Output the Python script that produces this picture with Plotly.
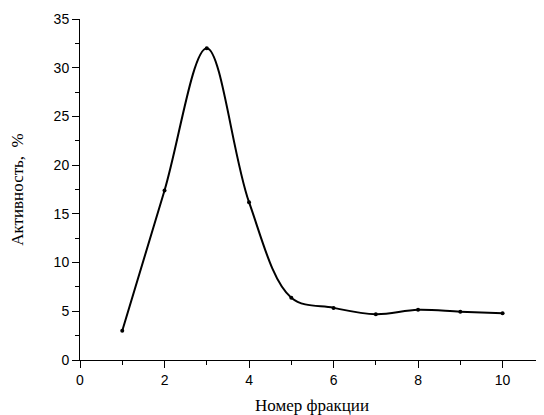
import plotly.graph_objects as go

fractions = [1, 2, 3, 4, 5, 6, 7, 8, 9, 10]
activity = [3.0, 17.4, 32.0, 16.2, 6.4, 5.35, 4.7, 5.15, 4.95, 4.8]

x_ticks = [0, 2, 4, 6, 8, 10]
y_ticks = [0, 5, 10, 15, 20, 25, 30, 35]

fig = go.Figure()
fig.add_trace(go.Scatter(
    x=fractions, y=activity, mode="lines+markers",
    line=dict(shape="spline", smoothing=1.0, color="black", width=2),
    marker=dict(size=4, color="black"),
    showlegend=False,
))

# page body adds an 8px offset, compensated in margins
fig.update_layout(
    width=544, height=415,
    margin=dict(l=72, r=8, t=11, b=63),
    paper_bgcolor="white", plot_bgcolor="white",
    font=dict(family="Liberation Sans, Arial", color="black", size=14),
)
fig.update_xaxes(
    range=[0, 10.98], tickvals=x_ticks, ticks="outside", ticklen=7,
    showline=True, linecolor="black", linewidth=1, showgrid=False, zeroline=False,
    minor=dict(tickvals=[1, 3, 5, 7, 9], ticks="outside", ticklen=4, tickcolor="black"),
    tickcolor="black", automargin=False,
    title=dict(text="Номер фракции", font=dict(family="Liberation Serif, Times New Roman", size=17), standoff=12),
)
fig.update_yaxes(
    range=[0, 35], tickvals=y_ticks, ticks="outside", ticklen=7,
    showline=True, linecolor="black", linewidth=1, showgrid=False, zeroline=False,
    minor=dict(tickvals=[2.5, 7.5, 12.5, 17.5, 22.5, 27.5, 32.5], ticks="outside", ticklen=4, tickcolor="black"),
    tickcolor="black", automargin=False,
    title=dict(text="Активность,  %", font=dict(family="Liberation Serif, Times New Roman", size=17), standoff=26),
)
fig.write_html("out.html")
